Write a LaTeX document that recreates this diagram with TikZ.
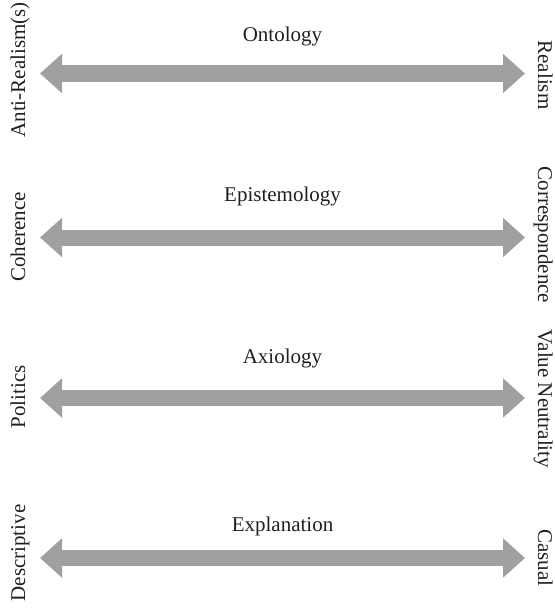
\documentclass[tikz,border=0pt]{standalone}
\usepackage{fontspec}
\setmainfont{Liberation Serif}
\usetikzlibrary{arrows.meta}
\definecolor{arrowgray}{HTML}{A0A0A0}
\definecolor{txt}{HTML}{231F20}
\begin{document}
\begin{tikzpicture}[x=1pt,y=-1pt,
  lbl/.style={font=\fontsize{21}{25}\selectfont, text=txt, inner sep=0pt, anchor=base},
  leftlbl/.style={lbl, rotate=90},
  rightlbl/.style={lbl, rotate=-90},
  bigarrow/.style={draw=arrowgray, line width=16pt, {Triangle[length=22pt,width=38pt]}-{Triangle[length=22pt,width=38pt]}}]
\useasboundingbox (0,0) rectangle (554,610);
% rows
\foreach \n/\y in {1/73.5, 2/237.5, 3/398, 4/558} {
  \coordinate (L\n) at (40,\y);
  \coordinate (R\n) at (525,\y);
  \draw[bigarrow] (L\n) -- (R\n);
}
% center titles
\node[lbl] (t1) at (282.5,41.7) {Ontology};
\node[lbl] (t2) at (282.5,201.7) {Epistemology};
\node[lbl] (t3) at (282.5,363) {Axiology};
\node[lbl] (t4) at (282.5,531) {Explanation};
% left labels
\node[leftlbl] (a1) at (25,70) {Anti-Realism(s)};
\node[leftlbl] (a2) at (25,237) {Coherence};
\node[leftlbl] (a3) at (25,397) {Politics};
\node[leftlbl] (a4) at (25,553) {Descriptive};
% right labels
\node[rightlbl] (b1) at (538,75) {Realism};
\node[rightlbl] (b2) at (538,235) {Correspondence};
\node[rightlbl] (b3) at (538,399) {Value Neutrality};
\node[rightlbl] (b4) at (538,558) {Casual};
\end{tikzpicture}
\end{document}
